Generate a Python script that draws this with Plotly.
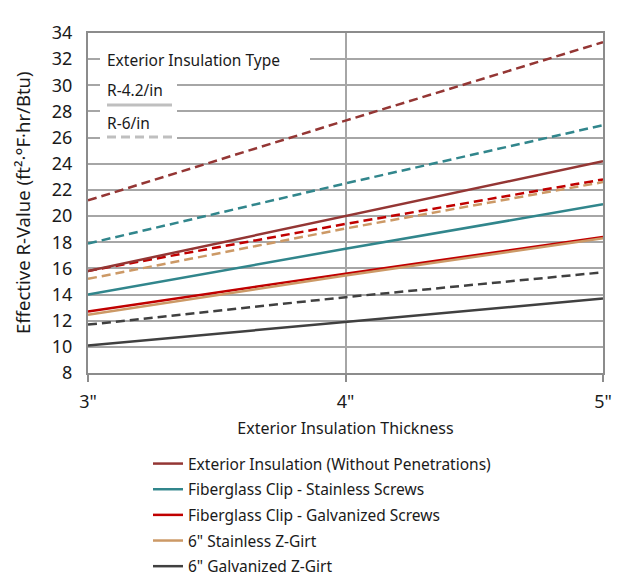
import plotly.graph_objects as go

thickness = [3, 4, 5]
tick_text = ['3"', '4"', '5"']

series_names = [
    "Exterior Insulation (Without Penetrations)",
    "Fiberglass Clip - Stainless Screws",
    "Fiberglass Clip - Galvanized Screws",
    '6" Stainless Z-Girt',
    '6" Galvanized Z-Girt',
]
colors = ["#943634", "#31868C", "#C00000", "#CC9966", "#404040"]

# R-4.2/in (solid)
r42_ext = [15.8, 20.0, 24.2]
r42_fg_ss = [14.0, 17.5, 20.9]
r42_fg_gs = [12.7, 15.6, 18.4]
r42_zs = [12.45, 15.45, 18.3]
r42_zg = [10.1, 11.9, 13.7]

# R-6/in (dashed)
r6_ext = [21.2, 27.3, 33.3]
r6_fg_ss = [17.9, 22.5, 26.95]
r6_fg_gs = [15.8, 19.4, 22.8]
r6_zs = [15.2, 19.05, 22.6]
r6_zg = [11.7, 13.8, 15.7]

solid = [r42_ext, r42_fg_ss, r42_fg_gs, r42_zs, r42_zg]
dashed = [r6_ext, r6_fg_ss, r6_fg_gs, r6_zs, r6_zg]

FONT = "Noto Sans, Open Sans, sans-serif"

fig = go.Figure()
for name, c, vals in zip(series_names, colors, dashed):
    fig.add_trace(go.Scatter(x=thickness, y=vals, mode="lines", name=name,
                             line=dict(color=c, width=2.5, dash="9px,5px"),
                             showlegend=False, hoverinfo="skip"))
for i, (name, c, vals) in enumerate(zip(series_names, colors, solid)):
    fig.add_trace(go.Scatter(x=thickness, y=vals, mode="lines", name=name,
                             legendgroup="g%d" % i,
                             line=dict(color=c, width=2.5)))

def px(x):
    return (x - 88) / 515

def py(y):
    return (373 - y) / 340

shapes = [
    dict(type="rect", xref="paper", yref="paper", x0=px(100), x1=px(310), y0=py(72), y1=py(47),
         fillcolor="white", line=dict(width=0), layer="above"),
    dict(type="rect", xref="paper", yref="paper", x0=px(100), x1=px(177), y0=py(145), y1=py(76),
         fillcolor="white", line=dict(width=0), layer="above"),
    dict(type="line", xref="paper", yref="paper", x0=px(107), x1=px(172), y0=py(105), y1=py(105),
         line=dict(color="#BFBFBF", width=3), layer="above"),
    dict(type="line", xref="paper", yref="paper", x0=px(107), x1=px(172), y0=py(137), y1=py(137),
         line=dict(color="#BFBFBF", width=3, dash="9px,5px"), layer="above"),
]

annotations = [
    dict(text="Exterior Insulation Type", xref="paper", yref="paper", x=px(105), y=py(60),
         xanchor="left", yanchor="middle", showarrow=False, font=dict(size=15.5, color="#1a1a1a", family=FONT)),
    dict(text="R-4.2/in", xref="paper", yref="paper", x=px(105), y=py(90),
         xanchor="left", yanchor="middle", showarrow=False, font=dict(size=15.5, color="#1a1a1a", family=FONT)),
    dict(text="R-6/in", xref="paper", yref="paper", x=px(105), y=py(123),
         xanchor="left", yanchor="middle", showarrow=False, font=dict(size=15.5, color="#1a1a1a", family=FONT)),
    dict(text="Effective R-Value (ft²·°F·hr/Btu)", xref="paper", yref="paper",
         x=px(22), y=0.5, xanchor="center", yanchor="middle", textangle=-90,
         showarrow=False, font=dict(size=18.5, color="#1a1a1a", family=FONT)),
]

fig.update_layout(
    width=624, height=584,
    margin=dict(l=88, r=21, t=33, b=211, autoexpand=False),
    paper_bgcolor="white", plot_bgcolor="white",
    font=dict(family=FONT, color="#1a1a1a"),
    shapes=shapes, annotations=annotations,
    legend=dict(x=148 / 624, xref="container", y=1 - 447 / 584, yref="container",
                xanchor="left", yanchor="top",
                font=dict(size=15.5, family=FONT, color="#1a1a1a"),
                bgcolor="rgba(0,0,0,0)", itemwidth=30, tracegroupgap=2.5),
    xaxis=dict(range=[3, 5], tickvals=thickness, ticktext=tick_text,
               automargin=True,
               showgrid=True, gridcolor="#A6A6A6", gridwidth=1.5,
               showline=True, linecolor="#8C8C8C", linewidth=2, mirror=True,
               ticks="outside", ticklen=7, tickcolor="#8C8C8C", tickwidth=1.5,
               ticklabelstandoff=4,
               tickfont=dict(size=18, family=FONT, color="#1a1a1a"),
               title=dict(text="Exterior Insulation Thickness", standoff=11,
                          font=dict(size=16, family=FONT, color="#1a1a1a")),
               zeroline=False),
    yaxis=dict(range=[8, 34], dtick=2, tick0=8,
               automargin=True,
               showgrid=True, gridcolor="#A6A6A6", gridwidth=1.5,
               showline=True, linecolor="#8C8C8C", linewidth=2, mirror=True,
               ticks="", ticklabelstandoff=10,
               tickfont=dict(size=18, family=FONT, color="#1a1a1a"),
               zeroline=False),
)

fig.write_html("out.html", config={"displayModeBar": False},
               post_script="document.body.style.margin='0';")
